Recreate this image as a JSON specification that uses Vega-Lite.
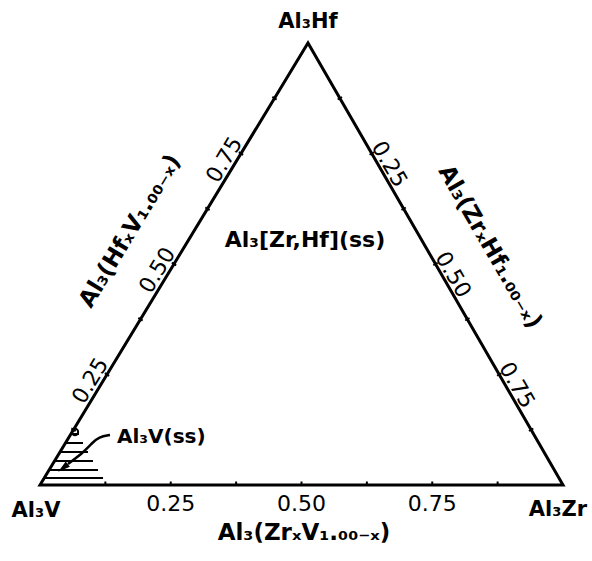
{
  "$schema": "https://vega.github.io/schema/vega-lite/v6.json",
  "width": 592,
  "height": 561,
  "autosize": {"type": "none"},
  "padding": 0,
  "background": "white",
  "config": {"view": {"stroke": null}},
  "datasets": {
    "outline": [
      {"u": 0, "v": 0, "k": 0},
      {"u": 1, "v": 0, "k": 1},
      {"u": 0.5124, "v": 1, "k": 2},
      {"u": 0, "v": 0, "k": 3},
      {"u": 0.05, "v": 0, "k": 4}
    ],
    "ticks": [
      {"u": 0.125, "v": 0, "side": "bottom"},
      {"u": 0.25, "v": 0, "side": "bottom"},
      {"u": 0.375, "v": 0, "side": "bottom"},
      {"u": 0.5, "v": 0, "side": "bottom"},
      {"u": 0.625, "v": 0, "side": "bottom"},
      {"u": 0.75, "v": 0, "side": "bottom"},
      {"u": 0.875, "v": 0, "side": "bottom"},
      {"u": 0.06405, "v": 0.125, "side": "left"},
      {"u": 0.1281, "v": 0.25, "side": "left"},
      {"u": 0.19215, "v": 0.375, "side": "left"},
      {"u": 0.2562, "v": 0.5, "side": "left"},
      {"u": 0.32025, "v": 0.625, "side": "left"},
      {"u": 0.3843, "v": 0.75, "side": "left"},
      {"u": 0.44835, "v": 0.875, "side": "left"},
      {"u": 0.57335, "v": 0.875, "side": "right"},
      {"u": 0.6343, "v": 0.75, "side": "right"},
      {"u": 0.69525, "v": 0.625, "side": "right"},
      {"u": 0.7562, "v": 0.5, "side": "right"},
      {"u": 0.81715, "v": 0.375, "side": "right"},
      {"u": 0.8781, "v": 0.25, "side": "right"},
      {"u": 0.93905, "v": 0.125, "side": "right"}
    ],
    "ticklabels": [
      {"u": 0.25, "v": 0, "label": "0.25", "side": "bottom"},
      {"u": 0.5, "v": 0, "label": "0.50", "side": "bottom"},
      {"u": 0.75, "v": 0, "label": "0.75", "side": "bottom"},
      {"u": 0.1281, "v": 0.25, "label": "0.25", "side": "left"},
      {"u": 0.2562, "v": 0.5, "label": "0.50", "side": "left"},
      {"u": 0.3843, "v": 0.75, "label": "0.75", "side": "left"},
      {"u": 0.6343, "v": 0.75, "label": "0.25", "side": "right"},
      {"u": 0.7562, "v": 0.5, "label": "0.50", "side": "right"},
      {"u": 0.8781, "v": 0.25, "label": "0.75", "side": "right"}
    ],
    "hatch": [
      {"u": 0.0591, "u2": 0.0746, "v": 0.1154},
      {"u": 0.0488, "u2": 0.0822, "v": 0.0950},
      {"u": 0.0382, "u2": 0.0918, "v": 0.0747},
      {"u": 0.0277, "u2": 0.1013, "v": 0.0543},
      {"u": 0.0174, "u2": 0.1109, "v": 0.0339},
      {"u": 0.0080, "u2": 0.1205, "v": 0.0158}
    ],
    "leader": [
      {"u": 0.1338, "v": 0.1131, "k": 0},
      {"u": 0.1128, "v": 0.1086, "k": 1},
      {"u": 0.0994, "v": 0.0950, "k": 2},
      {"u": 0.0841, "v": 0.0747, "k": 3},
      {"u": 0.0535, "v": 0.0475, "k": 4}
    ],
    "arrowhead": [{"u": 0.0440, "v": 0.0385}],
    "marker": [{"u": 0.0669, "v": 0.1199}],
    "vertices": [
      {"u": 0.5124, "v": 1.0475, "label": "Al₃Hf"},
      {"u": -0.0076, "v": -0.0588, "label": "Al₃V"},
      {"u": 0.9904, "v": -0.0566, "label": "Al₃Zr"}
    ],
    "bottomtitle": [{"u": 0.5048, "v": -0.1086, "label": "Al₃(ZrₓV₁.₀₀₋ₓ)"}],
    "lefttitle": [{"u": 0.1721, "v": 0.5747, "label": "Al₃(HfₓV₁.₀₀₋ₓ)"}],
    "righttitle": [{"u": 0.8604, "v": 0.5385, "label": "Al₃(ZrₓHf₁.₀₀₋ₓ)"}],
    "phases": [
      {"u": 0.5067, "v": 0.5543, "label": "Al₃[Zr,Hf](ss)"}
    ],
    "sslabel": [{"u": 0.1472, "v": 0.1086, "label": "Al₃V(ss)"}]
  },
  "encoding": {
    "x": {"field": "u", "type": "quantitative", "axis": null,
          "scale": {"domain": [-0.07648, 1.05545], "nice": false, "zero": false}},
    "y": {"field": "v", "type": "quantitative", "axis": null,
          "scale": {"domain": [-0.17195, 1.09729], "nice": false, "zero": false}}
  },
  "layer": [
    {
      "data": {"name": "hatch"},
      "mark": {"type": "rule", "color": "black", "strokeWidth": 2},
      "encoding": {"x2": {"field": "u2"}}
    },
    {
      "data": {"name": "outline"},
      "mark": {"type": "line", "color": "black", "strokeWidth": 3, "strokeJoin": "miter"},
      "encoding": {"order": {"field": "k", "type": "quantitative"}}
    },
    {
      "data": {"name": "ticks"},
      "transform": [{"filter": "datum.side === 'bottom'"}],
      "mark": {"type": "point", "shape": "M0,-1L0,0", "size": 49, "stroke": "black", "strokeWidth": 2, "filled": false, "opacity": 1}
    },
    {
      "data": {"name": "ticks"},
      "transform": [{"filter": "datum.side === 'left'"}],
      "mark": {"type": "point", "shape": "M-1,0L1,0", "size": 25, "angle": 31.2, "stroke": "black", "strokeWidth": 2, "filled": false, "opacity": 1}
    },
    {
      "data": {"name": "ticks"},
      "transform": [{"filter": "datum.side === 'right'"}],
      "mark": {"type": "point", "shape": "M-1,0L1,0", "size": 25, "angle": -30, "stroke": "black", "strokeWidth": 2, "filled": false, "opacity": 1}
    },
    {
      "data": {"name": "ticklabels"},
      "transform": [{"filter": "datum.side === 'bottom'"}],
      "mark": {"type": "text", "font": "DejaVu Sans", "fontSize": 22, "dy": 19, "align": "center", "baseline": "middle", "color": "black"},
      "encoding": {"text": {"field": "label"}}
    },
    {
      "data": {"name": "ticklabels"},
      "transform": [{"filter": "datum.side === 'left'"}],
      "mark": {"type": "text", "font": "DejaVu Sans", "fontSize": 22, "dx": -14, "dy": -11, "angle": -58.8, "align": "center", "baseline": "middle", "color": "black"},
      "encoding": {"text": {"field": "label"}}
    },
    {
      "data": {"name": "ticklabels"},
      "transform": [{"filter": "datum.side === 'right'"}],
      "mark": {"type": "text", "font": "DejaVu Sans", "fontSize": 22, "dx": 18, "dy": -10, "angle": 60, "align": "center", "baseline": "middle", "color": "black"},
      "encoding": {"text": {"field": "label"}}
    },
    {
      "data": {"name": "leader"},
      "mark": {"type": "line", "color": "black", "strokeWidth": 2.5, "interpolate": "basis"},
      "encoding": {"order": {"field": "k", "type": "quantitative"}}
    },
    {
      "data": {"name": "arrowhead"},
      "mark": {"type": "point", "shape": "M0,-1L0.55,1L-0.55,1Z", "size": 150, "angle": 231.5, "filled": true, "color": "black", "opacity": 1}
    },
    {
      "data": {"name": "marker"},
      "mark": {"type": "point", "shape": "circle", "size": 40, "filled": false, "stroke": "black", "strokeWidth": 2, "opacity": 1}
    },
    {
      "data": {"name": "vertices"},
      "mark": {"type": "text", "font": "DejaVu Sans", "fontWeight": "bold", "fontSize": 21, "align": "center", "baseline": "middle", "color": "black"},
      "encoding": {"text": {"field": "label"}}
    },
    {
      "data": {"name": "bottomtitle"},
      "mark": {"type": "text", "font": "DejaVu Sans", "fontWeight": "bold", "fontSize": 23, "align": "center", "baseline": "middle", "color": "black"},
      "encoding": {"text": {"field": "label"}}
    },
    {
      "data": {"name": "lefttitle"},
      "mark": {"type": "text", "font": "DejaVu Sans", "fontWeight": "bold", "fontSize": 23, "angle": -58.8, "align": "center", "baseline": "middle", "color": "black"},
      "encoding": {"text": {"field": "label"}}
    },
    {
      "data": {"name": "righttitle"},
      "mark": {"type": "text", "font": "DejaVu Sans", "fontWeight": "bold", "fontSize": 23, "angle": 60, "align": "center", "baseline": "middle", "color": "black"},
      "encoding": {"text": {"field": "label"}}
    },
    {
      "data": {"name": "phases"},
      "mark": {"type": "text", "font": "DejaVu Sans", "fontWeight": "bold", "fontSize": 22, "align": "center", "baseline": "middle", "color": "black"},
      "encoding": {"text": {"field": "label"}}
    },
    {
      "data": {"name": "sslabel"},
      "mark": {"type": "text", "font": "DejaVu Sans", "fontWeight": "bold", "fontSize": 20, "align": "left", "baseline": "middle", "color": "black"},
      "encoding": {"text": {"field": "label"}}
    }
  ]
}
